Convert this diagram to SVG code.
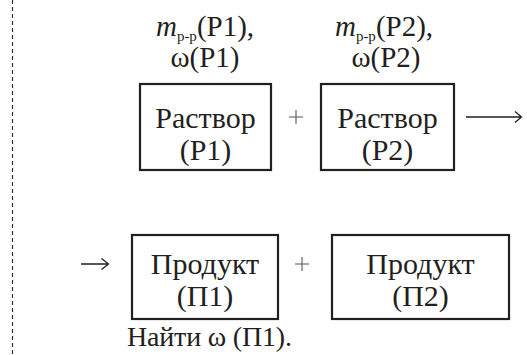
<svg xmlns="http://www.w3.org/2000/svg" width="527" height="355" viewBox="0 0 527 355" font-family="'Liberation Serif', 'DejaVu Serif', 'Times New Roman', serif">
<style>
.t{font-family:'Liberation Serif','DejaVu Serif','Times New Roman',serif;font-size:30px;fill:#231f20;text-anchor:middle}
.l{font-family:'Liberation Serif','DejaVu Serif','Times New Roman',serif;font-size:29px;fill:#231f20;text-anchor:middle}
.s{font-size:15px}
.box{fill:#fff;stroke:#231f20;stroke-width:2.2}
.ar{fill:none;stroke:#231f20;stroke-width:1.3}
.pl{fill:none;stroke:#555;stroke-width:1.1}
</style>
<rect width="527" height="355" fill="#fff"/>
<line x1="12.5" y1="0" x2="12.5" y2="355" stroke="#333" stroke-width="1.2" stroke-dasharray="4 3"/>
<g id="label1">
<text class="l" x="205" y="36"><tspan font-style="italic">m</tspan><tspan class="s" dy="5">р-р</tspan><tspan dy="-5">(Р1),</tspan></text>
<text class="l" x="205" y="67">ω(Р1)</text>
</g>
<g id="label2">
<text class="l" x="384" y="36"><tspan font-style="italic">m</tspan><tspan class="s" dy="5">р-р</tspan><tspan dy="-5">(Р2),</tspan></text>
<text class="l" x="386" y="67">ω(Р2)</text>
</g>
<g id="p1">
<rect class="box" x="140" y="84" width="131" height="86"/>
<text class="t" x="205.5" y="128">Раствор</text>
<text class="t" x="205.5" y="160">(Р1)</text>
</g>
<g id="plus1"><path class="pl" d="M289 117H303M296 110V124"/></g>
<g id="p2">
<rect class="box" x="321" y="84" width="133" height="86"/>
<text class="t" x="387.5" y="128">Раствор</text>
<text class="t" x="387.5" y="160">(Р2)</text>
</g>
<g id="pr1">
<rect class="box" x="132" y="235" width="146" height="84"/>
<text class="t" x="205" y="274">Продукт</text>
<text class="t" x="205" y="306">(П1)</text>
</g>
<g id="plus2"><path class="pl" d="M295 264H309M302 257V271"/></g>
<g id="pr2">
<rect class="box" x="332" y="235" width="177" height="84"/>
<text class="t" x="420.5" y="274">Продукт</text>
<text class="t" x="420.5" y="306">(П2)</text>
</g>
<g id="connectors">
<path class="ar" d="M81 264H108M101.5 258.5L108.5 264L101.5 269.5"/>
<path class="ar" d="M466 117H521M515 111.5L521.5 117L515 122.5"/>
</g>
<g id="task">
<text class="t" x="127" y="346" style="text-anchor:start;font-size:28px" textLength="165" lengthAdjust="spacing">Найти ω (П1).</text>
</g>
</svg>
